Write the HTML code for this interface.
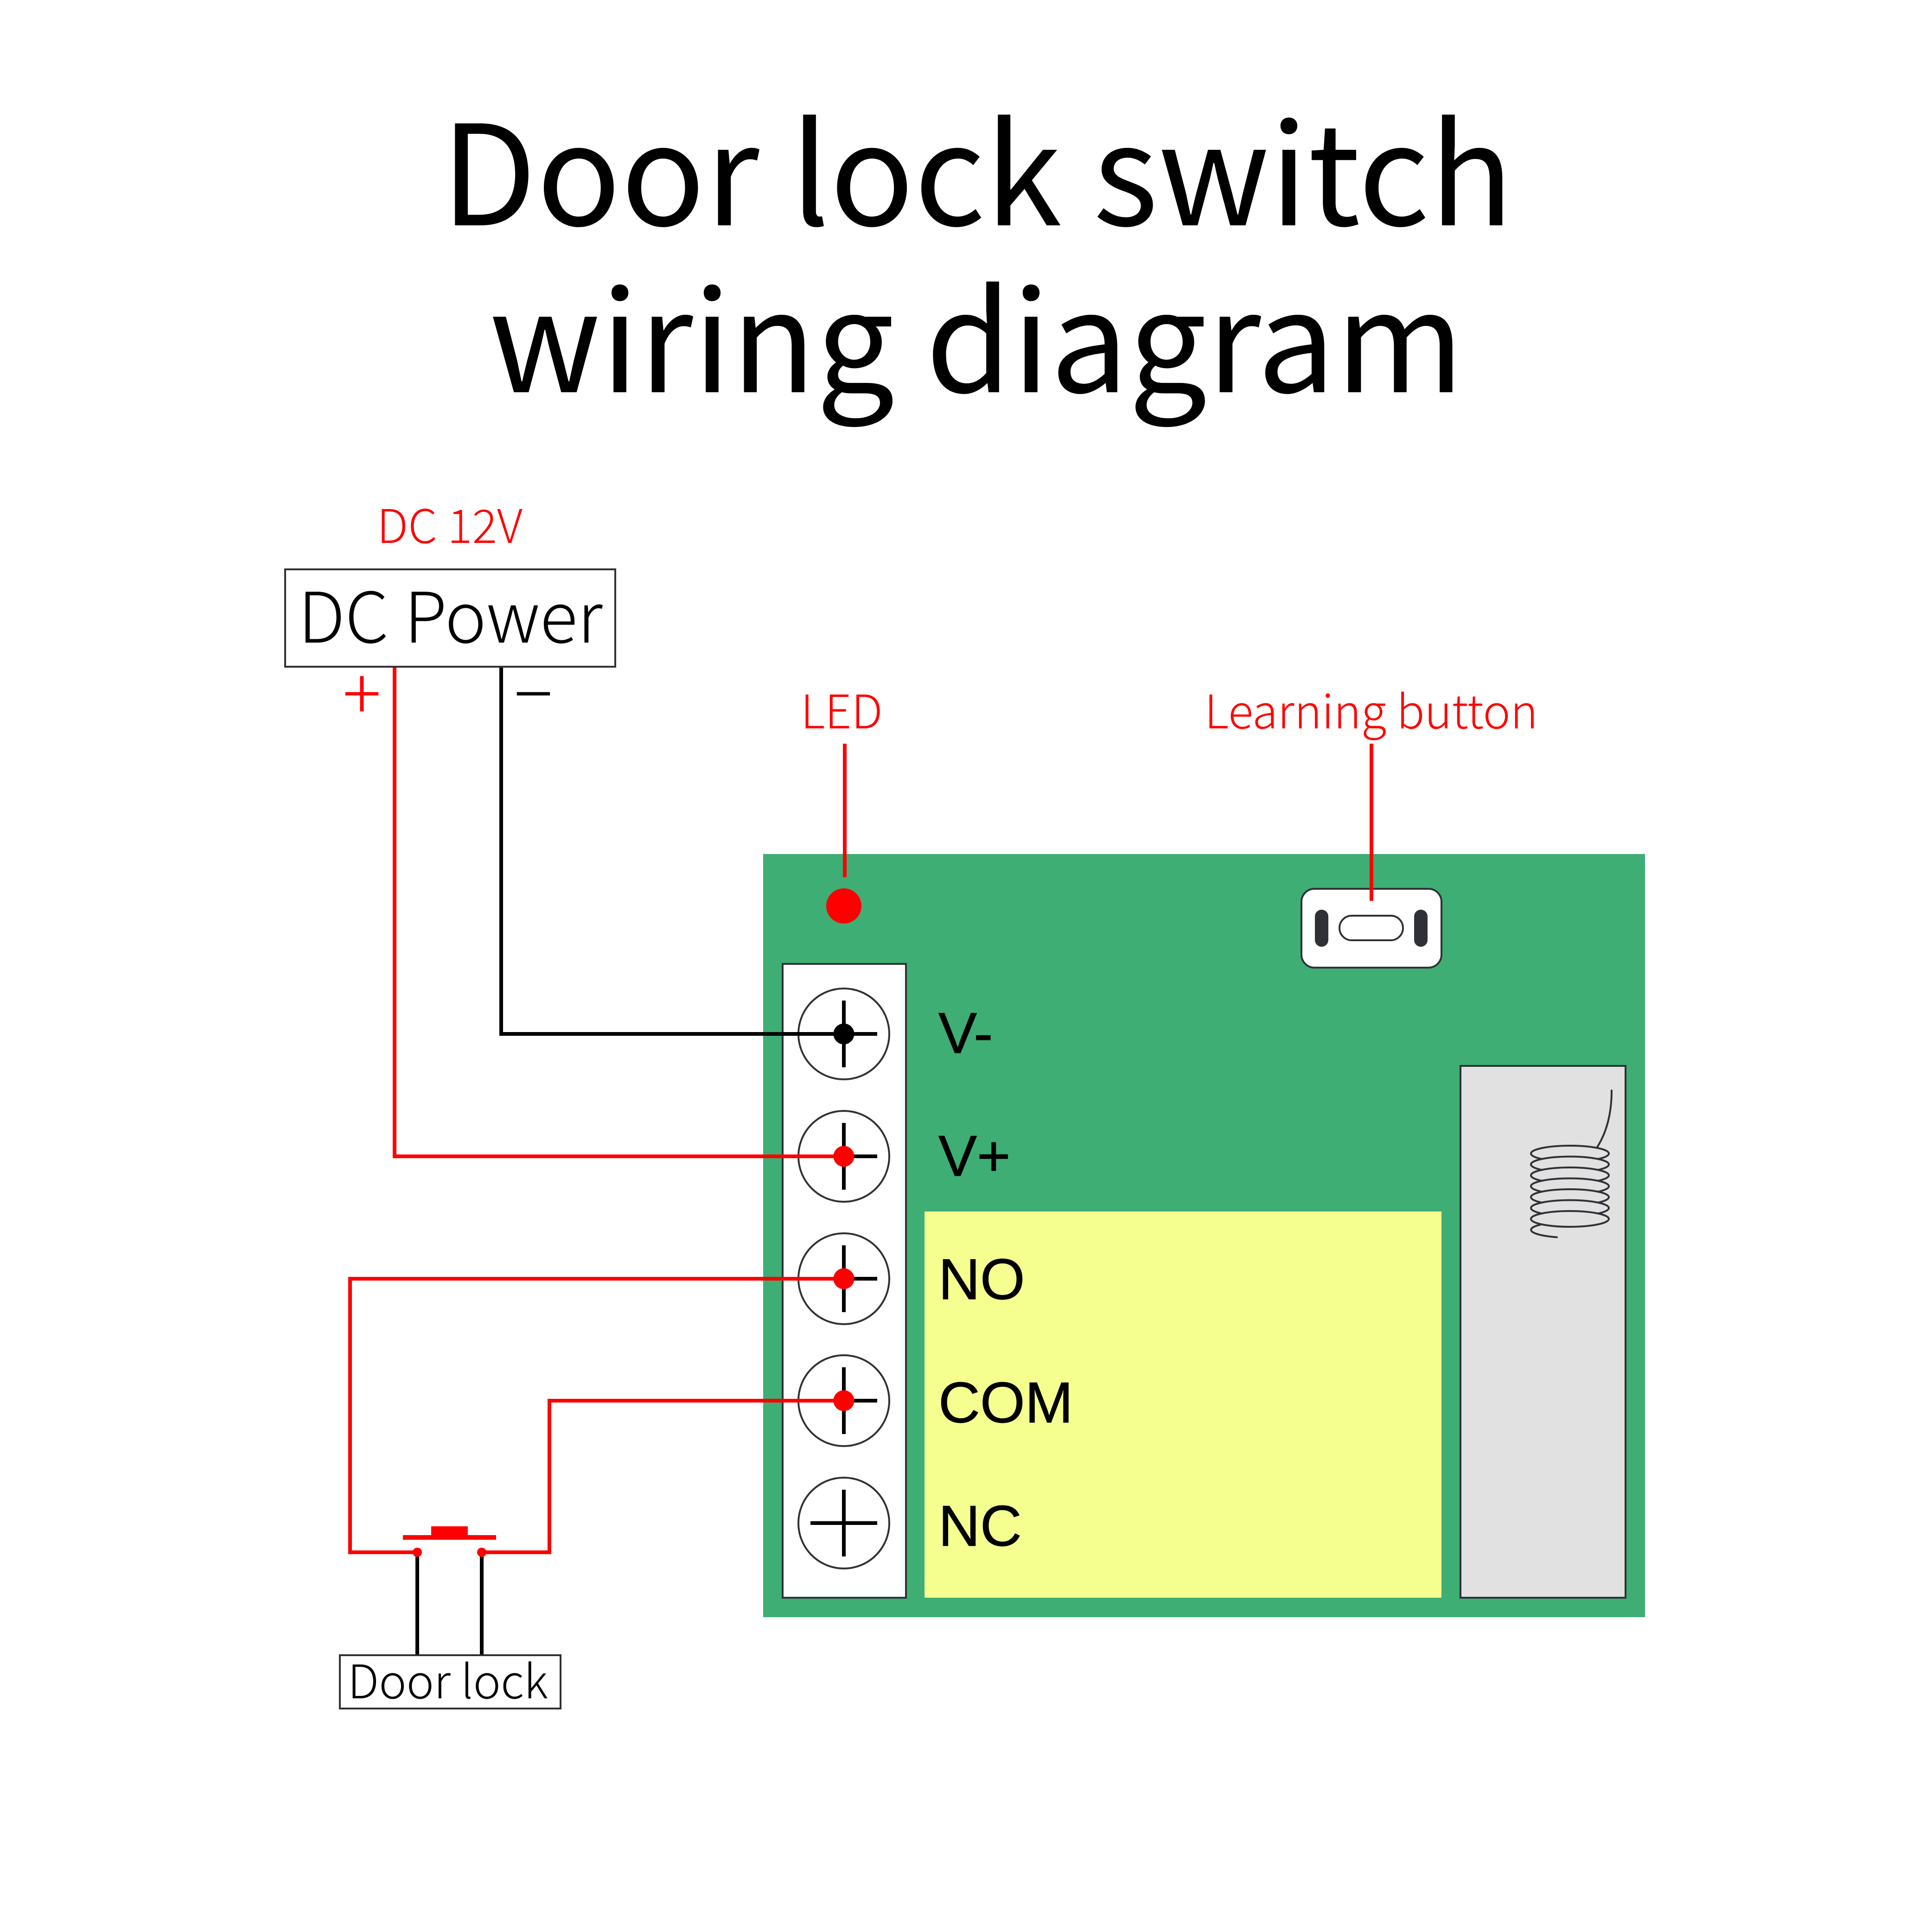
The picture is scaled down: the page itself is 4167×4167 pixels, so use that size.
<!DOCTYPE html>
<html>
<head>
<meta charset="utf-8">
<title>Door lock switch wiring diagram</title>
<style>
html,body{margin:0;padding:0;background:#fff;width:4167px;height:4167px;overflow:hidden}
svg{display:block}
.cjk{font-family:"Noto Sans CJK SC","Noto Sans CJK JP","Liberation Sans",sans-serif}
.lib{font-family:"Liberation Sans",Arial,sans-serif}
.lt{font-weight:300}
</style>
</head>
<body>
<svg xmlns="http://www.w3.org/2000/svg" width="4167" height="4167" viewBox="0 0 4167 4167">
<rect width="4167" height="4167" fill="#fff"/>

<!-- Title -->
<text class="cjk" x="951" y="486" font-size="300" fill="#000">Door lock switch</text>
<text class="cjk" x="1055" y="846" font-size="300" fill="#000">wiring diagram</text>

<!-- Board -->
<rect x="1646" y="1842" width="1902" height="1646" fill="#3eae74"/>
<rect x="1994" y="2613" width="1115" height="833" fill="#f5ff8f"/>
<rect x="3150" y="2299" width="356" height="1147" fill="#e1e1e1" stroke="#303136" stroke-width="4"/>

<!-- Coil -->
<g fill="none" stroke="#303136" stroke-width="4" stroke-linecap="round">
<path d="M3476 2352 Q3476 2425 3445 2474"/>
<ellipse cx="3386" cy="2488" rx="84" ry="17" fill="#e1e1e1"/>
<ellipse cx="3386" cy="2511.5" rx="84" ry="17" fill="#e1e1e1"/>
<ellipse cx="3386" cy="2535" rx="84" ry="17" fill="#e1e1e1"/>
<ellipse cx="3386" cy="2558.5" rx="84" ry="17" fill="#e1e1e1"/>
<ellipse cx="3386" cy="2582" rx="84" ry="17" fill="#e1e1e1"/>
<ellipse cx="3386" cy="2605.5" rx="84" ry="17" fill="#e1e1e1"/>
<path d="M3322 2641.5 A84 17 0 0 0 3358 2668.5"/>
<ellipse cx="3386" cy="2629" rx="84" ry="17" fill="#e1e1e1"/>
</g>

<!-- Learning button -->
<rect x="2807" y="1917" width="302" height="170" rx="28" ry="28" fill="#fff" stroke="#303136" stroke-width="4"/>
<rect x="2836" y="1962" width="29" height="80" rx="14.5" fill="#303136"/>
<rect x="3050" y="1962" width="29" height="80" rx="14.5" fill="#303136"/>
<rect x="2889" y="1975" width="137" height="53" rx="26.5" fill="#fff" stroke="#303136" stroke-width="4"/>

<!-- Terminal strip -->
<rect x="1688" y="2079" width="266" height="1367" fill="#fff" stroke="#303136" stroke-width="4"/>
<g fill="#fff" stroke="#303136" stroke-width="4">
<circle cx="1820" cy="2230" r="98"/>
<circle cx="1820" cy="2494" r="98"/>
<circle cx="1820" cy="2758" r="98"/>
<circle cx="1820" cy="3021" r="98"/>
<circle cx="1820" cy="3285" r="98"/>
</g>
<g stroke="#000" stroke-width="8" fill="none">
<path d="M1748 2230H1892M1820 2158V2302"/>
<path d="M1748 2494H1892M1820 2422V2566"/>
<path d="M1748 2758H1892M1820 2686V2830"/>
<path d="M1748 3021H1892M1820 2949V3093"/>
<path d="M1748 3285H1892M1820 3213V3357"/>
</g>

<!-- Terminal labels -->
<g class="lib" font-size="124.5" fill="#000" stroke="#000" stroke-width="1">
<text x="2024" y="2271">V-</text>
<text x="2024" y="2536">V+</text>
<text x="2024" y="2802">NO</text>
<text x="2024" y="3068">COM</text>
<text x="2024" y="3334">NC</text>
</g>

<!-- Wires -->
<g fill="none" stroke-width="8">
<path d="M1081 1440V2230H1820" stroke="#000"/>
<path d="M851 1440V2494H1820" stroke="#f00"/>
<path d="M1820 2758H755V3348H900" stroke="#f00"/>
<path d="M1820 3021H1185V3348H1039" stroke="#f00"/>
<path d="M900 3350V3570M1039 3350V3570" stroke="#000"/>
<path d="M1822 1604V1892M2958 1604V1943" stroke="#f00"/>
</g>
<circle cx="1820" cy="2230" r="22.5" fill="#000"/>
<circle cx="1820" cy="2494" r="22.5" fill="#f00"/>
<circle cx="1820" cy="2758" r="22.5" fill="#f00"/>
<circle cx="1820" cy="3021" r="22.5" fill="#f00"/>
<circle cx="1820" cy="1954" r="38" fill="#f00"/>
<circle cx="900" cy="3348" r="10" fill="#f00"/>
<circle cx="1039" cy="3348" r="10" fill="#f00"/>

<!-- Push button -->
<rect x="869" y="3311" width="201" height="10" fill="#f00"/>
<rect x="930" y="3292" width="79" height="19" fill="#f00"/>

<!-- DC power box -->
<rect x="615" y="1228" width="712" height="210" fill="#fff" stroke="#303136" stroke-width="4"/>
<text class="cjk lt" x="643" y="1386" font-size="150.5" fill="#000">DC Power</text>
<text class="cjk lt" x="813" y="1171" font-size="100" fill="#f00">DC 12V</text>
<text class="cjk lt" x="739" y="1553" font-size="155" fill="#f00">+</text>
<text class="cjk lt" x="1109" y="1553" font-size="155" fill="#000">−</text>

<!-- Top labels -->
<text class="cjk lt" x="1727" y="1571" font-size="100" fill="#f00">LED</text>
<text class="cjk lt" x="2598" y="1571" font-size="100" fill="#f00">Learning button</text>

<!-- Door lock box -->
<rect x="733" y="3570" width="476" height="115" fill="#fff" stroke="#303136" stroke-width="4"/>
<text class="cjk lt" x="750" y="3663" font-size="100" fill="#000">Door lock</text>
</svg>
</body>
</html>
